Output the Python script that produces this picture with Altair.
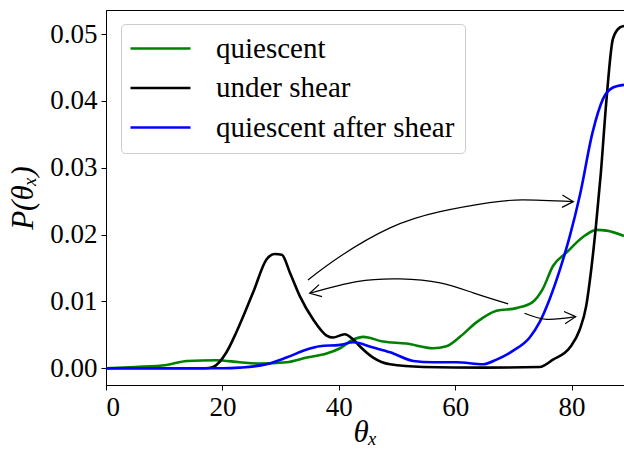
import altair as alt
import pandas as pd

# ---- data ----
series_names = ["quiescent", "under shear", "quiescent after shear"]
series_colors = ["#008000", "#000000", "#0000ff"]

g_x = [0, 5, 10.4, 13.9, 19, 23, 26.4, 31, 34.5, 37.9, 40.2, 42.5, 44.2, 47.6, 51.6, 56.2, 58.5,
       60.8, 63.7, 67.1, 70.5, 73.3, 75, 76.8, 79.1, 81.9, 84.3, 86, 89]
g_y = [0, 0.0002, 0.0005, 0.0011, 0.0012, 0.0009, 0.0007, 0.0009, 0.0016, 0.0022, 0.0030, 0.0043,
       0.0047, 0.0040, 0.0037, 0.0030, 0.0033, 0.0047, 0.0069, 0.0086, 0.0090, 0.0099, 0.0118,
       0.0153, 0.0173, 0.0196, 0.0207, 0.0206, 0.0198]

b_x = [0, 10, 17, 18.4, 20.7, 22.4, 25.3, 27.6, 29.0, 30.2, 31.6, 33.3, 35.6, 37.9, 39, 41, 42.5,
       43.6, 45.9, 48.8, 54.5, 65, 74.5, 76.8, 79.7, 81.4, 82.5, 83.4, 84.2, 85, 86, 87.1, 88.3, 89]
b_y = [0, 0, 0, 0.0002, 0.0024, 0.0054, 0.0114, 0.0163, 0.0171, 0.0170, 0.0143, 0.0108, 0.0073,
       0.0049, 0.0046, 0.0051, 0.0043, 0.0033, 0.0016, 0.0006, 0.0002, 0.0001, 0.0002, 0.0013,
       0.0031, 0.0058, 0.0093, 0.0150, 0.0215, 0.0290, 0.0403, 0.0493, 0.0510, 0.0512]

u_x = [0, 10, 20, 23, 27.6, 31, 34.5, 36.7, 40.2, 42.5, 45.9, 48.8, 52.8, 56.2, 60.2, 64.8, 67.1,
       69.9, 72.8, 74.5, 76.2, 78, 79.7, 81.4, 83.6, 85.4, 87.1, 89]
u_y = [0, 0, 0, 0.0001, 0.0006, 0.0016, 0.0028, 0.0033, 0.0035, 0.0039, 0.0031, 0.0024, 0.0011,
       0.0009, 0.0009, 0.0006, 0.0013, 0.0026, 0.0046, 0.0069, 0.0103, 0.0148, 0.0198, 0.0258,
       0.0353, 0.0403, 0.0420, 0.0424]

# annotation arrows (data coordinates)
a1_x = [34.7, 40.2, 48.8, 57.4, 65.9, 71.6, 80.3]
a1_y = [0.01322, 0.01673, 0.02100, 0.02343, 0.02478, 0.02519, 0.02493]
a2_x = [69.1, 63.1, 57.4, 50.5, 43.1, 35.0]
a2_y = [0.00963, 0.01128, 0.01278, 0.01337, 0.01297, 0.01122]
a3_x = [71.9, 75.7, 80.7]
a3_y = [0.00823, 0.00733, 0.00772]
head_angles = [2, 166, 355]

x_ticks = [0, 20, 40, 60, 80]
y_ticks = [0.0, 0.01, 0.02, 0.03, 0.04, 0.05]

FONT = "Liberation Serif"

rows = []
for name, xs, ys in zip(series_names, [g_x, b_x, u_x], [g_y, b_y, u_y]):
    for i, (xv, yv) in enumerate(zip(xs, ys)):
        rows.append({"series": name, "x": xv, "y": yv, "i": i})
df = pd.DataFrame(rows)

arows = []
heads = []
for k, (xs, ys) in enumerate([(a1_x, a1_y), (a2_x, a2_y), (a3_x, a3_y)]):
    for i, (xv, yv) in enumerate(zip(xs, ys)):
        arows.append({"arrow": k, "x": xv, "y": yv, "i": i})
    heads.append({"arrow": k, "x": xs[-1], "y": ys[-1], "ang": head_angles[k]})
adf = pd.DataFrame(arows)
hdf = pd.DataFrame(heads)

xscale = alt.Scale(domain=[0, 89], nice=False, zero=False)
yscale = alt.Scale(domain=[-0.0025, 0.0536], nice=False, zero=False)

lines = alt.Chart(df).mark_line(strokeWidth=2.6, interpolate="monotone", clip=True).encode(
    x=alt.X("x:Q", scale=xscale,
            axis=alt.Axis(values=x_ticks, format="d", title="θₓ")),
    y=alt.Y("y:Q", scale=yscale,
            axis=alt.Axis(values=y_ticks, format=".2f", title="P(θₓ)")),
    color=alt.Color("series:N",
                    scale=alt.Scale(domain=series_names, range=series_colors),
                    legend=alt.Legend(title=None, orient="none", legendX=15, legendY=14,
                                      symbolType="M -3 0 L 3 0", symbolSize=400,
                                      symbolOffset=15,
                                      symbolStrokeWidth=2.6, labelFontSize=29,
                                      labelFont=FONT, labelOffset=41, labelLimit=400,
                                      rowPadding=9.5, padding=10,
                                      fillColor="white", strokeColor="#cccccc",
                                      cornerRadius=4)),
    order="i:Q",
)

arrows = alt.Chart(adf).mark_line(strokeWidth=1.2, color="black", interpolate="natural").encode(
    x=alt.X("x:Q", scale=xscale),
    y=alt.Y("y:Q", scale=yscale),
    detail="arrow:N",
    order="i:Q",
)

arrowheads = alt.Chart(hdf).mark_point(
    shape="M -1 -0.55 L 0 0 L -1 0.55", filled=False, color="black",
    strokeWidth=1.2, size=500, opacity=1,
).encode(
    x=alt.X("x:Q", scale=xscale),
    y=alt.Y("y:Q", scale=yscale),
    angle=alt.Angle("ang:Q", scale=None),
)

chart = alt.layer(lines, arrows, arrowheads).properties(
    width=518, height=375,
    padding={"left": 106, "top": 10, "right": 0, "bottom": 67},
    autosize=alt.AutoSizeParams(type="none"),
    background="white",
).configure_axis(
    grid=False,
    labelFont=FONT, titleFont=FONT,
    labelFontSize=27, titleFontSize=31,
    labelColor="black", titleColor="black",
    domainColor="black", tickColor="black",
    tickSize=5, labelPadding=4,
    titleFontWeight="normal",
).configure_axisX(
    titlePadding=-3, titleFontStyle="italic",
).configure_axisY(
    titlePadding=10, titleFontStyle="italic",
).configure_view(
    stroke="black", strokeWidth=1,
)

chart.save("out.html", embed_options={"renderer": "svg", "actions": False})
